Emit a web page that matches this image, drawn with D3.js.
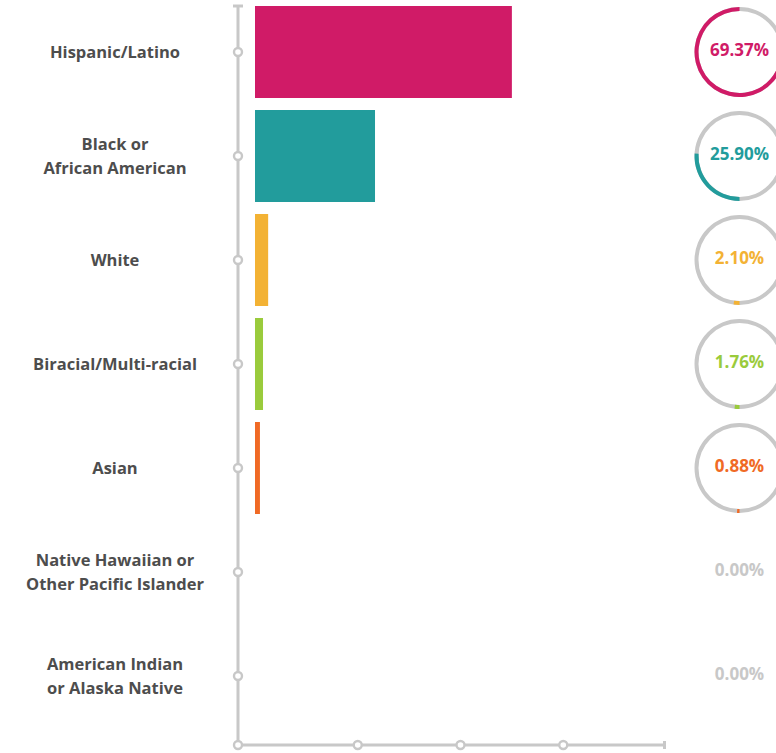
<!DOCTYPE html>
<html lang="en">
	<head>
		<meta charset="utf-8">
		<title>race / ethnicity bars</title>
		<script type="text/javascript" src="https://cdn.jsdelivr.net/npm/d3@7"></script>
		<style type="text/css">
			body{
				margin: 0;
				background: #fff;
			}
			text{
				font-family: "Open Sans", sans-serif;
				font-weight: bold;
			}
		</style>
	</head>
	<body>
	<script type="text/javascript">

			//Data
			var categories = [
				["Hispanic/Latino"],
				["Black or", "African American"],
				["White"],
				["Biracial/Multi-racial"],
				["Asian"],
				["Native Hawaiian or", "Other Pacific Islander"],
				["American Indian", "or Alaska Native"]
			];
			var percents = [69.37, 25.90, 2.10, 1.76, 0.88, 0.00, 0.00];
			// bar lengths in axis units (0-100), as drawn
			var barValues = [62.5, 29.2, 3.2, 1.95, 1.2, 0, 0];
			var colors = ["#d01b67", "#229c9c", "#f3b234", "#9acb3c", "#f06a25", "#c8c8c8", "#c8c8c8"];
			var xTicks = [25, 50, 75];

			//Width and height
			var w = 776;
			var h = 753;
			var axisX = 238;
			var axisY = 745;
			var grey = "#c8c8c8";

			var svg = d3.select("body")
						.append("svg")
						.attr("width", w)
						.attr("height", h);

			//Scales
			var yScale = d3.scaleBand()
							.domain(d3.range(categories.length))
							.range([0, 728])
							.paddingInner(12 / 104)
							.paddingOuter(6 / 104);

			var xScale = d3.scaleLinear()
							.domain([0, 100])
							.range([255, 666]);

			function cy(i) {
				return yScale(i) + yScale.bandwidth() / 2;
			}

			//Bars
			svg.selectAll("rect.bar")
			   .data(barValues)
			   .enter()
			   .append("rect")
			   .attr("class", "bar")
			   .filter(function(d) { return d > 0; })
			   .attr("x", xScale(0))
			   .attr("y", function(d, i) { return yScale(i); })
			   .attr("width", function(d) { return xScale(d) - xScale(0); })
			   .attr("height", yScale.bandwidth())
			   .attr("fill", function(d, i) { return colors[i]; });

			//Axes
			svg.append("line")
			   .attr("x1", axisX).attr("x2", axisX)
			   .attr("y1", 6).attr("y2", axisY)
			   .attr("stroke", grey).attr("stroke-width", 3);
			svg.append("line")
			   .attr("x1", axisX - 5).attr("x2", axisX + 5)
			   .attr("y1", 6).attr("y2", 6)
			   .attr("stroke", grey).attr("stroke-width", 3);
			svg.append("line")
			   .attr("x1", axisX).attr("x2", xScale(100))
			   .attr("y1", axisY).attr("y2", axisY)
			   .attr("stroke", grey).attr("stroke-width", 3);
			svg.append("line")
			   .attr("x1", xScale(100) - 1.5).attr("x2", xScale(100) - 1.5)
			   .attr("y1", axisY - 4).attr("y2", axisY + 4)
			   .attr("stroke", grey).attr("stroke-width", 3);

			//Axis markers
			var markers = categories.map(function(c, i) { return [axisX, cy(i)]; })
				.concat([[axisX, axisY]])
				.concat(xTicks.map(function(t) { return [xScale(t), axisY]; }));

			svg.selectAll("circle.marker")
			   .data(markers)
			   .enter()
			   .append("circle")
			   .attr("class", "marker")
			   .attr("cx", function(d) { return d[0]; })
			   .attr("cy", function(d) { return d[1]; })
			   .attr("r", 4)
			   .attr("fill", "#fff")
			   .attr("stroke", grey)
			   .attr("stroke-width", 2.4);

			//Category labels
			var labels = svg.selectAll("text.label")
			   .data(categories)
			   .enter()
			   .append("text")
			   .attr("class", "label")
			   .attr("x", 115)
			   .attr("y", function(d, i) { return cy(i) + 6 - (d.length - 1) * 12; })
			   .attr("text-anchor", "middle")
			   .attr("font-size", "16.5px")
			   .attr("fill", "#4d4d4d");

			labels.selectAll("tspan")
			   .data(function(d) { return d; })
			   .enter()
			   .append("tspan")
			   .attr("x", 115)
			   .attr("dy", function(d, j) { return j ? 24 : 0; })
			   .text(function(d) { return d; });

			//Rings
			var ringX = 739.5;
			var arc = d3.arc().innerRadius(41).outerRadius(45);

			var rings = svg.selectAll("g.ring")
			   .data(percents)
			   .enter()
			   .append("g")
			   .attr("class", "ring")
			   .attr("transform", function(d, i) { return "translate(" + ringX + "," + cy(i) + ")"; });

			rings.filter(function(d) { return d > 0; })
			   .append("path")
			   .attr("d", arc({startAngle: 0, endAngle: 2 * Math.PI}))
			   .attr("fill", grey);

			rings.filter(function(d) { return d > 0; })
			   .append("path")
			   .attr("d", function(d) {
			   		// fills clockwise from the bottom up to the top, the rest runs the other way
			   		var s = d / 100 * 2 * Math.PI;
			   		return arc({
			   			startAngle: Math.PI - Math.max(0, s - Math.PI),
			   			endAngle: Math.PI + Math.min(s, Math.PI)
			   		});
			   })
			   .attr("fill", function(d, i) { return colors[percents.indexOf(d)]; });

			rings.append("text")
			   .attr("x", 0)
			   .attr("y", 4)
			   .attr("text-anchor", "middle")
			   .attr("font-size", "17px")
			   .attr("fill", function(d, i) { return colors[i]; })
			   .text(function(d) { return d.toFixed(2) + "%"; });

		</script>
	</body>
</html>
